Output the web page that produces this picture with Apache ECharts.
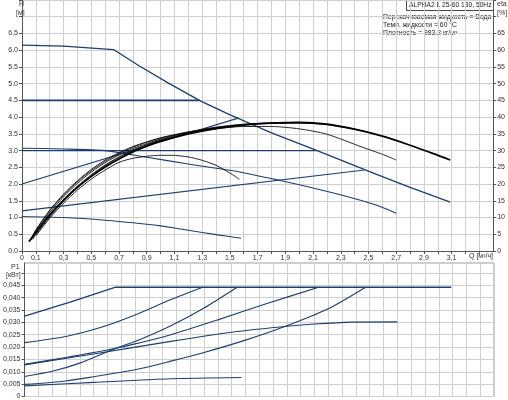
<!DOCTYPE html>
<html><head><meta charset="utf-8">
<script src="https://cdn.jsdelivr.net/npm/echarts@6/dist/echarts.min.js"></script>
<style>html,body{margin:0;padding:0;background:#fff}#c{width:508px;height:400px}</style>
</head><body><div id="c"></div>
<script>
// ---- Head curves H [m] vs Q [m3/h]
const hMax   = [[0,6.15],[0.3,6.12],[0.66,6.02],[0.85,5.52],[1.06,5.01],[1.29,4.48],[1.49,4.09],[1.8,3.53],[2.13,3.0],[2.54,2.32],[2.8,1.9],[3.09,1.46]];
const hConst45 = [[0,4.5],[1.28,4.5]];
const hConst30 = [[0,3.0],[2.13,3.0]];
const hProp20  = [[0,2.0],[1.56,3.97]];
const hProp12  = [[0,1.2],[2.47,2.42]];
const hSpeed   = [[0,3.07],[0.3,3.05],[0.6,3.0],[0.9,2.8],[1.2,2.6],[1.56,2.37],[1.87,2.1],[2.1,1.88],[2.35,1.62],[2.55,1.38],[2.7,1.13]];
const hMin     = [[0,1.03],[0.3,1.0],[0.6,0.92],[0.9,0.8],[1.0,0.75],[1.2,0.62],[1.4,0.49],[1.58,0.38]];
// ---- Efficiency curves eta [%]
const eMax   = [[0.05,2.8],[0.1,5.5],[0.2,10.8],[0.3,15.2],[0.4,19],[0.5,22.3],[0.6,25.1],[0.7,27.5],[0.8,29.6],[0.9,31.3],[1.0,32.8],[1.2,35],[1.4,36.6],[1.6,37.6],[1.8,38.2],[2.0,38.4],[2.2,37.9],[2.4,36.4],[2.6,34.3],[2.8,31.6],[3.0,28.6],[3.09,27.2]];
const eConst45 = [[0.06,3.2],[0.1,6.3],[0.2,12.2],[0.3,17],[0.4,21],[0.5,24.4],[0.6,27.2],[0.7,29.4],[0.8,31.2],[0.9,32.6],[1.0,33.8],[1.1,34.7],[1.2,35.3],[1.28,35.8]];
const eProp20  = [[0.06,3.2],[0.1,6.2],[0.2,12],[0.3,16.7],[0.4,20.7],[0.5,24],[0.6,26.8],[0.7,29.1],[0.8,31],[0.9,32.5],[1.0,33.8],[1.2,35.6],[1.4,36.8],[1.56,37.5]];
const eConst30 = [[0.07,3.4],[0.1,5.9],[0.2,11.5],[0.3,16.2],[0.4,20.2],[0.5,23.6],[0.6,26.4],[0.7,28.7],[0.8,30.6],[0.9,32.1],[1.0,33.5],[1.2,35.5],[1.4,36.9],[1.6,37.8],[1.8,38.2],[2.0,38.3],[2.13,38.1]];
const eSpeed   = [[0.08,3.5],[0.1,5.2],[0.2,10.7],[0.3,15.4],[0.4,19.4],[0.5,22.8],[0.6,25.7],[0.7,28.1],[0.8,30.1],[0.9,31.7],[1.0,33.1],[1.2,35.2],[1.4,36.5],[1.6,37.2],[1.8,37.2],[2.0,36.5],[2.2,34.9],[2.45,31.1],[2.6,28.9],[2.7,27.2]];
const eProp12  = [[0.1,4.8],[0.2,10.2],[0.3,14.9],[0.4,19],[0.5,22.5],[0.6,25.5],[0.7,28],[0.8,30.1],[0.9,31.8],[1.0,33.3],[1.2,35.5],[1.4,37],[1.6,37.9],[1.8,38.3],[2.0,38.3],[2.2,37.7],[2.47,35.8]];
const eMin     = [[0.1,4.5],[0.2,9.8],[0.3,14.3],[0.4,18.2],[0.5,21.5],[0.6,24.2],[0.7,26.5],[0.8,27.7],[0.9,28.3],[1.0,28.6],[1.08,28.6],[1.2,28.1],[1.3,27.1],[1.4,25.6],[1.5,23.3],[1.57,21.4]];
// ---- Power curves P1 [kW]
const pMax     = [[0,0.0325],[0.33,0.0382],[0.66,0.0442],[3.09,0.0442]];
const pConst45 = [[0,0.0218],[0.3,0.0243],[0.55,0.0279],[0.8,0.0330],[1.06,0.0392],[1.29,0.0442]];
const pProp20  = [[0,0.0081],[0.2,0.0102],[0.4,0.0135],[0.63,0.0188],[0.85,0.0234],[1.06,0.0286],[1.3,0.0358],[1.54,0.0442]];
const pConst30 = [[0,0.0130],[0.3,0.0158],[0.6,0.0188],[0.8,0.0213],[1.06,0.0250],[1.4,0.0310],[1.75,0.0375],[2.13,0.0442]];
const pSpeed   = [[0,0.0128],[0.5,0.0172],[1.06,0.0223],[1.5,0.0260],[1.85,0.0281],[2.1,0.0293],[2.37,0.0301],[2.7,0.0302]];
const pProp12  = [[0,0.0049],[0.3,0.0063],[0.5,0.0080],[0.8,0.0108],[1.06,0.0143],[1.3,0.0178],[1.6,0.0228],[1.87,0.0280],[2.2,0.0355],[2.47,0.0442]];
const pMin     = [[0,0.0043],[0.5,0.0057],[1.06,0.0072],[1.57,0.0077]];
// ---- Text
const titleText = 'ALPHA2 L 25-60 130, 50Hz';
const infoLines = ['Перекачиваемая жидкость = Вода','Темп. жидкости = 60 °C','Плотность = 983.2 кг/м³'];

const FONT = '"Liberation Sans", Arial, sans-serif';
const BLUE = '#1d3e6e';
const GRID = '#cfcfcf';
const AX = '#555';
const LBL = {fontFamily: FONT, fontSize: 7, color: '#333'};

function ser(data, xi, yi, color, w, smooth) {
  return {type:'line', data, xAxisIndex:xi, yAxisIndex:yi, symbol:'none', silent:true,
    smooth: smooth ? 0.25 : false,
    lineStyle:{color, width:w}, animation:false};
}
function qLabel(v){
  const n = Math.round(v*10);
  if (n === 0) return '0';
  if (n % 2 === 1 && n <= 31) return (n/10).toFixed(1).replace('.', ',');
  return '';
}

const chart = echarts.init(document.getElementById('c'));
chart.setOption({
  animation:false,
  grid:[
    {left:22, right:14, top:0, bottom:149},
    {left:22, right:14, top:263, bottom:3, show:true, borderColor:'#999', borderWidth:1}
  ],
  xAxis:[
    {gridIndex:0, type:'value', min:0, max:3.4, interval:0.1,
     axisLine:{show:true, onZero:false, lineStyle:{color:AX}},
     axisTick:{show:true, length:3, lineStyle:{color:AX}},
     axisLabel:Object.assign({formatter:qLabel, margin:4, showMaxLabel:false}, LBL),
     splitLine:{show:true, lineStyle:{color:GRID, width:1}}},
    {gridIndex:1, type:'value', min:0, max:3.4, interval:0.1,
     axisLine:{show:false}, axisTick:{show:false}, axisLabel:{show:false},
     splitLine:{show:true, lineStyle:{color:GRID, width:1}}}
  ],
  yAxis:[
    {gridIndex:0, type:'value', min:0, max:7.5, interval:0.5,
     axisLine:{show:true, lineStyle:{color:AX}},
     axisTick:{show:true, length:3, lineStyle:{color:AX}},
     axisLabel:Object.assign({margin:4, formatter:v => v > 6.6 ? '' : v.toFixed(1)}, LBL),
     splitLine:{show:true, lineStyle:{color:GRID, width:1}}},
    {gridIndex:0, type:'value', min:0, max:75, interval:5, position:'right',
     axisLine:{show:true, lineStyle:{color:AX}},
     axisTick:{show:true, length:3, lineStyle:{color:AX}},
     axisLabel:Object.assign({margin:4, formatter:v => v > 66 ? '' : String(v)}, LBL),
     splitLine:{show:false}},
    {gridIndex:1, type:'value', min:0, max:0.054, interval:0.005,
     axisLine:{show:true, lineStyle:{color:AX}},
     axisTick:{show:true, length:3, lineStyle:{color:AX}},
     axisLabel:Object.assign({margin:4, showMaxLabel:false, formatter:v => v < 1e-9 ? '0' : (v > 0.0466 ? '' : v.toFixed(3).replace('.', ','))}, LBL),
     splitLine:{show:true, lineStyle:{color:GRID, width:1}}}
  ],
  series:[
    ser(hMax,0,0,BLUE,1.3,false),
    ser(hConst45,0,0,BLUE,1.6,false),
    ser(hConst30,0,0,BLUE,1.3,false),
    ser(hProp20,0,0,BLUE,1.1,false),
    ser(hProp12,0,0,BLUE,1.1,false),
    ser(hSpeed,0,0,BLUE,1.1,true),
    ser(hMin,0,0,BLUE,1.1,true),
    ser(eConst45,0,1,'#111',0.9,true),
    ser(eProp20,0,1,'#111',0.9,true),
    ser(eConst30,0,1,'#111',0.9,true),
    ser(eSpeed,0,1,'#111',0.9,true),
    ser(eProp12,0,1,'#111',0.9,true),
    ser(eMin,0,1,'#111',0.9,true),
    ser(eMax,0,1,'#000',1.8,true),
    ser(pMax,1,2,BLUE,1.3,false),
    ser(pConst45,1,2,BLUE,1.1,true),
    ser(pProp20,1,2,BLUE,1.1,true),
    ser(pConst30,1,2,BLUE,1.1,true),
    ser(pSpeed,1,2,BLUE,1.1,true),
    ser(pProp12,1,2,BLUE,1.1,true),
    ser(pMin,1,2,BLUE,1.1,true)
  ],
  graphic:[
    {type:'text', left:19, top:1, style:{text:'H', font:'7px '+FONT, fill:'#333'}},
    {type:'text', left:16, top:10, style:{text:'[м]', font:'7px '+FONT, fill:'#333'}},
    {type:'text', left:497, top:1, style:{text:'eta', font:'7px '+FONT, fill:'#333'}},
    {type:'text', left:497, top:10, style:{text:'[%]', font:'7px '+FONT, fill:'#333'}},
    {type:'text', left:469, top:253, style:{text:'Q [м³/ч]', font:'7px '+FONT, fill:'#333'}},
    {type:'text', left:11, top:264, style:{text:'P1', font:'7px '+FONT, fill:'#333'}},
    {type:'text', left:6, top:272, style:{text:'[кВт]', font:'7px '+FONT, fill:'#333'}},
    {type:'rect', shape:{x:406.5, y:0.5, width:87, height:10}, style:{fill:'#fff', stroke:'#444', lineWidth:1}},
    {type:'text', left:409, top:2, style:{text:titleText, font:'6.7px '+FONT, fill:'#222'}},
    {type:'text', left:383, top:14, style:{text:infoLines[0], font:'6.8px '+FONT, fill:'#222'}},
    {type:'text', left:383, top:22, style:{text:infoLines[1], font:'6.8px '+FONT, fill:'#222'}},
    {type:'text', left:383, top:30, style:{text:infoLines[2], font:'6.8px '+FONT, fill:'#222'}}
  ]
});
</script></body></html>
